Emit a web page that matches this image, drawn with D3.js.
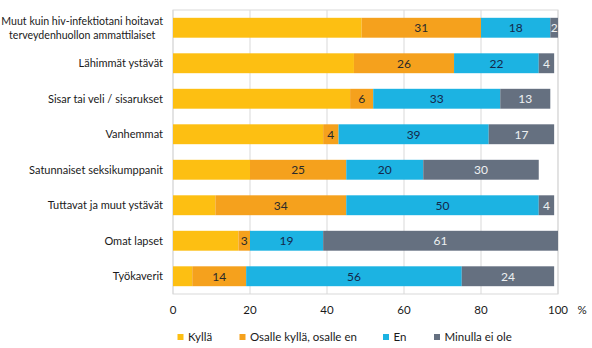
<!DOCTYPE html>
<html><head><meta charset="utf-8">
<script src="https://cdn.jsdelivr.net/npm/d3@7"></script>
<style>
body{margin:0;background:#fff;}
svg{display:block;font-family:Lato,"Open Sans",sans-serif;}
</style></head>
<body><svg id="c" width="592" height="348"></svg>
<script>
const categories = [
  "Muut kuin hiv-infektiotani hoitavat|terveydenhuollon ammattilaiset",
  "Lähimmät ystävät",
  "Sisar tai veli / sisarukset",
  "Vanhemmat",
  "Satunnaiset seksikumppanit",
  "Tuttavat ja muut ystävät",
  "Omat lapset",
  "Työkaverit"
];
const seriesNames = ["Kyllä", "Osalle kyllä, osalle en", "En", "Minulla ei ole"];
const kylla  = [49, 47, 46, 39, 20, 11, 17, 5];
const osalle = [31, 26, 6, 4, 25, 34, 3, 14];
const en     = [18, 22, 33, 39, 20, 50, 19, 56];
const eiOle  = [2, 4, 13, 17, 30, 4, 61, 24];
const tickValues = [0, 20, 40, 60, 80, 100];
const colors = ["#fdbf12", "#f5a11d", "#1cb3e2", "#657080"];
const labelColors = ["#222", "#2a2a2a", "#14284a", "#eef0f2"];

const svg = d3.select("#c");
const x = d3.scaleLinear().domain([0, 100]).range([173, 558]);
const y = d3.scaleBand().domain(d3.range(categories.length)).range([10, 294]).paddingInner(0.44).paddingOuter(0.22);

const seriesVals = [kylla, osalle, en, eiOle];
const data = categories.map((c, i) => {
  const o = {i};
  seriesNames.forEach((s, k) => o[s] = seriesVals[k][i]);
  return o;
});
const stacked = d3.stack().keys(seriesNames)(data);

// grid
svg.append("g").selectAll("line").data(tickValues).join("line")
  .attr("x1", d => x(d)).attr("x2", d => x(d))
  .attr("y1", 10).attr("y2", 294)
  .attr("stroke", "#d9d9d9").attr("stroke-width", 1);
svg.append("rect").attr("x", x(0)).attr("y", 10).attr("width", x(100) - x(0)).attr("height", 284)
  .attr("fill", "none").attr("stroke", "#d9d9d9");

// bars
const g = svg.append("g").selectAll("g").data(stacked).join("g").attr("fill", (d, k) => colors[k]);
g.selectAll("rect").data(d => d).join("rect")
  .attr("x", d => x(d[0])).attr("width", d => x(d[1]) - x(d[0]))
  .attr("y", d => y(d.data.i)).attr("height", y.bandwidth());

// value labels (all but first series)
stacked.forEach((s, k) => {
  if (k === 0) return;
  svg.append("g").selectAll("text").data(s).join("text")
    .attr("x", d => (x(d[0]) + x(d[1])) / 2)
    .attr("y", d => y(d.data.i) + y.bandwidth() / 2)
    .attr("dy", "0.36em").attr("text-anchor", "middle")
    .attr("font-size", 12).attr("fill", labelColors[k])
    .text(d => d[1] - d[0]);
});

// category labels
categories.forEach((c, i) => {
  const lines = c.split("|");
  const cy = y(i) + y.bandwidth() / 2;
  if (lines.length === 1) {
    svg.append("text").attr("x", 163).attr("y", cy).attr("dy", "0.36em")
      .attr("text-anchor", "end").attr("font-size", 11).attr("fill", "#1a1a1a").text(lines[0]);
  } else {
    const fs = 10.6;
    const t = svg.append("text").attr("font-size", fs).attr("fill", "#1a1a1a").attr("text-anchor", "middle");
    const tmp = svg.append("text").attr("font-size", fs).text(lines[0]);
    const w = tmp.node().getComputedTextLength(); tmp.remove();
    const cx = 163 - w / 2;
    lines.forEach((l, j) => t.append("tspan").attr("x", cx).attr("y", cy + (j - 0.5) * 14).attr("dy", "0.36em").text(l));
  }
});

// x axis labels
svg.append("g").selectAll("text").data(tickValues).join("text")
  .attr("x", d => x(d)).attr("y", 310).attr("dy", "0.36em").attr("text-anchor", "middle")
  .attr("font-size", 11.5).attr("fill", "#1a1a1a").text(d => d);
svg.append("text").attr("x", 582).attr("y", 310).attr("dy", "0.36em").attr("text-anchor", "middle")
  .attr("font-size", 11.5).attr("fill", "#1a1a1a").text("%");

// legend
const legendX = [180.5, 242.5, 386, 437];
const lg = svg.append("g").selectAll("g").data(seriesNames).join("g")
  .attr("transform", (d, k) => `translate(${legendX[k]},337)`);
lg.append("rect").attr("x", -3).attr("y", -3).attr("width", 6).attr("height", 6).attr("fill", (d, k) => colors[k]);
lg.append("text").attr("x", 7.5).attr("dy", "0.36em").attr("font-size", 11.5).attr("fill", "#1a1a1a").text(d => d);
</script></body></html>
